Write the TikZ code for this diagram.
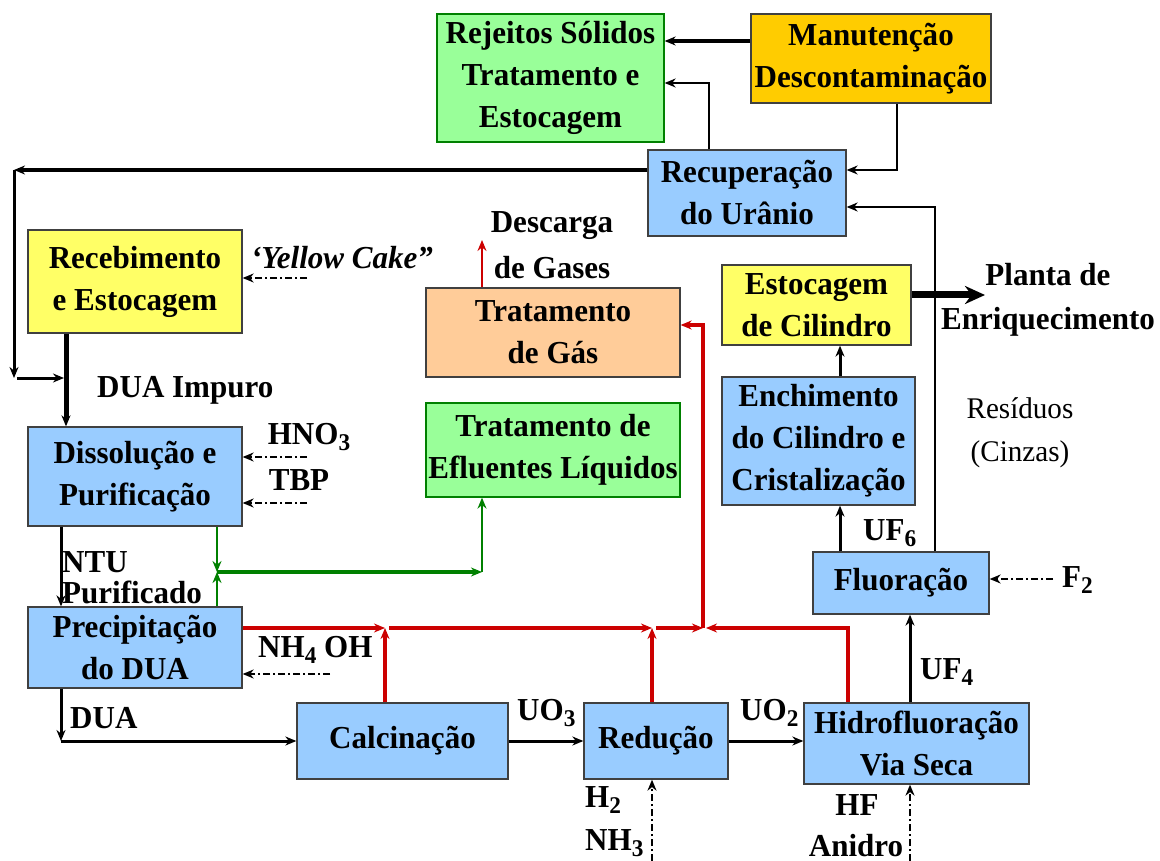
\documentclass[tikz,border=0pt]{standalone}
\usepackage{fontspec}
\setmainfont{Liberation Serif}[FakeStretch=0.97]
\usetikzlibrary{arrows.meta}
\definecolor{azul}{HTML}{99CCFF}
\definecolor{verde}{HTML}{99FF99}
\definecolor{verdeesc}{HTML}{008000}
\definecolor{amarelo}{HTML}{FFFF66}
\definecolor{laranja}{HTML}{FFCC00}
\definecolor{pessego}{HTML}{FFCC99}
\definecolor{vermelho}{HTML}{CC0000}
\newcommand{\subi}[1]{\raisebox{-0.45ex}{\fontsize{24}{24}\selectfont #1}}
\begin{document}
\begin{tikzpicture}[x=1pt,y=-1pt,>={Stealth[length=11pt,width=9pt]},
  caixa/.style={draw=black!75,line width=1.3pt,align=center,inner sep=0pt,font=\bfseries\fontsize{32}{42}\selectfont},
  rotulo/.style={inner sep=0pt,align=center,font=\bfseries\fontsize{32}{44}\selectfont},
  seta/.style={->,line width=3pt},
  fino/.style={->,line width=1.6pt},
  tracejado/.style={->,line width=2.6pt,dash pattern=on 7pt off 3pt on 2pt off 3pt},
  linhagas/.style={->,vermelho,line width=3.5pt},
  linhaliq/.style={->,verdeesc,line width=1.6pt}]
    \useasboundingbox (0,0) rectangle (1160,861);
    % caixas
    \node[caixa,fill=verde,draw=verdeesc,minimum width=227,minimum height=128] (rejeitos) at (550.5,78) {Rejeitos Sólidos\\Tratamento e\\Estocagem};
    \node[caixa,fill=laranja,minimum width=240,minimum height=89] (manut) at (871,58.5) {Manutenção\\Descontaminação};
    \node[caixa,fill=azul,minimum width=198,minimum height=86] (recup) at (747,193) {Recuperação\\do Urânio};
    \node[caixa,fill=amarelo,minimum width=214,minimum height=103] (receb) at (135,281.5) {Recebimento\\e Estocagem};
    \node[caixa,fill=pessego,minimum width=254,minimum height=89] (tratgas) at (553,332.5) {Tratamento\\de Gás};
    \node[caixa,fill=amarelo,minimum width=189,minimum height=80] (estoc) at (816.5,305) {Estocagem\\de Cilindro};
    \node[caixa,fill=verde,draw=verdeesc,minimum width=254,minimum height=94] (eflu) at (553,450) {Tratamento de\\Efluentes Líquidos};
    \node[caixa,fill=azul,minimum width=193,minimum height=128] (ench) at (818.5,441) {Enchimento\\do Cilindro e\\Cristalização};
    \node[caixa,fill=azul,minimum width=214,minimum height=99] (dissol) at (135,476.5) {Dissolução e\\Purificação};
    \node[caixa,fill=azul,minimum width=214,minimum height=81] (precip) at (135,647.5) {Precipitação\\do DUA};
    \node[caixa,fill=azul,minimum width=176,minimum height=62] (fluor) at (901,583) {Fluoração};
    \node[caixa,fill=azul,minimum width=211,minimum height=76] (calc) at (402.5,741) {Calcinação};
    \node[caixa,fill=azul,minimum width=144,minimum height=76] (reduc) at (656,741) {Redução};
    \node[caixa,fill=azul,minimum width=225,minimum height=81] (hidro) at (916.5,743.5) {Hidrofluoração\\Via Seca};
    % rotulos
    \node[rotulo,anchor=west] (lbimpuro) at (97,390) {DUA Impuro};
    \node[rotulo,font=\bfseries\itshape\fontsize{32}{44}\selectfont] (lbyellow) at (342,258) {`Yellow Cake''};
    \node[rotulo] (lbhno) at (309,437) {HNO\subi{3}};
    \node[rotulo] (lbtbp) at (299,480) {TBP};
    \node[rotulo,anchor=west] (lbntu) at (62,562) {NTU};
    \node[rotulo,anchor=west] (lbpurif) at (62,592) {Purificado};
    \node[rotulo,anchor=west] (lbdua) at (70,718) {DUA};
    \node[rotulo,anchor=west] (lbnh4) at (258,650) {NH\subi{4} OH};
    \node[rotulo,anchor=west] (lbuo3) at (517,713) {UO\subi{3}};
    \node[rotulo,anchor=west] (lbuo2) at (740,713) {UO\subi{2}};
    \node[rotulo,anchor=west] (lbuf4) at (920,672) {UF\subi{4}};
    \node[rotulo,anchor=west] (lbuf6) at (863,533) {UF\subi{6}};
    \node[rotulo,anchor=west] (lbf2) at (1062,580) {F\subi{2}};
    \node[rotulo,anchor=west] (lbh2) at (585,800) {H\subi{2}};
    \node[rotulo,anchor=west] (lbnh3) at (585,843) {NH\subi{3}};
    \node[rotulo] (lbhf) at (857,805) {HF};
    \node[rotulo] (lbanidro) at (856,846) {Anidro};
    \node[rotulo,font=\bfseries\fontsize{32}{46}\selectfont] (lbdescarga) at (552,245) {Descarga\\de Gases};
    \node[rotulo] (lbplanta) at (1048,300) {Planta de\\Enriquecimento};
    \node[rotulo,font=\fontsize{30}{43}\selectfont] (lbresiduos) at (1020,433) {Resíduos\\(Cinzas)};
    % pontos livres
    \coordinate (ret) at (14,170);
    \coordinate (retb) at (14,378);
    \coordinate (jv) at (217,572);
    \coordinate (je) at (482,572);
    \coordinate (r1) at (385,628);
    \coordinate (r2) at (652,628);
    \coordinate (r3) at (703,628);
    \coordinate (r4) at (848,628);
    \coordinate (dua) at (61,741);
    \coordinate (descarga) at (482,240);
    \coordinate (planta) at (985,295);
    \coordinate (inyellow) at (307,278);
    \coordinate (inhno) at (307,457);
    \coordinate (intbp) at (307,503);
    \coordinate (innh4) at (330,674);
    \coordinate (inf2) at (1053,579);
    \coordinate (inh2) at (652,861);
    \coordinate (inhf) at (910,861);
    % ligacoes superiores
    \draw[->,line width=4pt] (manut.west |- 0,41) -- (rejeitos.east |- 0,41);
    \draw[fino] (recup.north -| 709,0) |- (rejeitos.east |- 0,83);
    \draw[fino] (manut.south -| 897,0) |- (recup.east |- 0,170);
    \draw[->,line width=3.5pt] (recup.west |- ret) -- (ret);
    \draw[->,line width=3pt] (ret) -- (retb);
    \draw[->,line width=3pt] ([xshift=3pt]retb) -- (retb -| 64,0);
    \draw[->,line width=5pt] (receb.south -| 66,0) -- (dissol.north -| 66,0);
    % entradas
    \draw[tracejado] (inyellow) -- (receb.east |- inyellow);
    \draw[tracejado] (inhno) -- (dissol.east |- inhno);
    \draw[tracejado] (intbp) -- (dissol.east |- intbp);
    \draw[tracejado] (innh4) -- (precip.east |- innh4);
    \draw[tracejado] (inf2) -- (fluor.east |- inf2);
    \draw[tracejado] (inh2) -- (reduc.south -| inh2);
    \draw[tracejado] (inhf) -- (hidro.south -| inhf);
    % processo
    \draw[seta] (dissol.south -| dua) -- (precip.north -| dua);
    \draw[seta] (precip.south -| dua) -- (dua);
    \draw[seta] (dua) -- (calc.west);
    \draw[seta] (calc.east) -- (reduc.west);
    \draw[seta] (reduc.east) -- (hidro.west |- reduc.east);
    \draw[seta] (hidro.north -| 910,0) -- (fluor.south -| 910,0);
    \draw[seta] (fluor.north -| 840,0) -- (ench.south -| 840,0);
    \draw[seta] (ench.north -| 840,0) -- (estoc.south -| 840,0);
    \draw[->,line width=7pt,>={Stealth[length=20pt,width=18pt]}] (estoc.east |- planta) -- (planta);
    \draw[fino] (fluor.north -| 935,0) |- (recup.east |- 0,207);
    % efluentes liquidos
    \draw[linhaliq] (dissol.south -| jv) -- (jv);
    \draw[linhaliq] (precip.north -| jv) -- (jv);
    \draw[linhaliq,line width=3.5pt] (jv) -- (je);
    \draw[linhaliq] (je) -- (eflu.south -| je);
    % gases
    \draw[linhagas] (precip.east |- r1) -- (r1);
    \draw[linhagas] (calc.north -| r1) -- (r1);
    \draw[linhagas] ([xshift=4pt]r1) -- (r2);
    \draw[linhagas] (reduc.north -| r2) -- (r2);
    \draw[linhagas] ([xshift=4pt]r2) -- (r3);
    \draw[linhagas] (hidro.north -| r4) -- (r4) -- ([xshift=3pt]r3);
    \draw[linhagas] (r3) |- (tratgas.east |- 0,325);
    \draw[linhagas,line width=1.6pt] (tratgas.north -| descarga) -- (descarga);
\end{tikzpicture}
\end{document}
